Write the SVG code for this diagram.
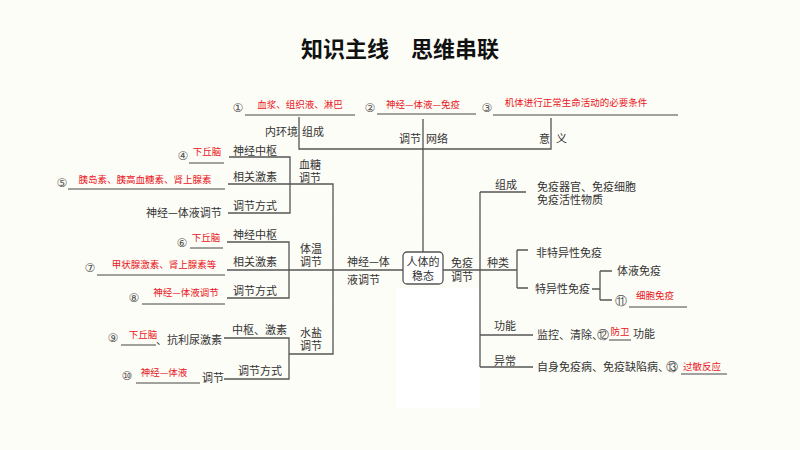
<svg xmlns="http://www.w3.org/2000/svg" width="800" height="450" viewBox="0 0 800 450">
<style>
.t{font-family:"Noto Sans CJK SC",sans-serif;font-size:11px;fill:#333}
.r{font-family:"Noto Sans CJK SC",sans-serif;font-size:9.5px;fill:#e8141b}
.n{font-family:"DejaVu Sans",sans-serif;font-size:12px;fill:#555}
.l{stroke:#555;stroke-width:1.3;fill:none}
.u{stroke:#444;stroke-width:1;fill:none}
</style>
<rect width="800" height="450" fill="#fdfdf7"/>
<text x="400" y="57" text-anchor="middle" font-family="Noto Sans CJK SC,sans-serif" font-size="22" font-weight="bold" fill="#111">知识主线　思维串联</text>
<rect x="396" y="288" width="84" height="120" fill="#fff"/>
<g id="connectors">
<path class="l" d="M299 117V149H551V118M423 119V252M229 157H290V213H228M228 184H333V354H289M227 242H289V298H227M227 270H403M224 338H289V379H224M443 270H517M480 192H526M480 192V367M480 335H533M480 367H533M517 250V288M517 250H528M517 288H528M592 289H600M600 271V300M600 271H612M600 300H612"/>
<path class="u" d="M245 115H355M377 114H476M493 115H678M189 163H224M68 189H225M190 248H223M97 275H225M142 304H225M121 345H156M136 383H200M629 307H687M609 340H631M681 374H727"/>
</g>
<g id="center"><rect x="403" y="252" width="40" height="32" rx="4" fill="#fff" stroke="#555" stroke-width="1.3"/><text class="t" x="423" y="266" text-anchor="middle">人体的</text><text class="t" x="423" y="280" text-anchor="middle">稳态</text></g>
<g id="top">
<text class="n" x="238" y="112" text-anchor="middle">①</text><text class="r" x="300" y="108" text-anchor="middle">血浆、组织液、淋巴</text>
<text class="n" x="370" y="112" text-anchor="middle">②</text><text class="r" x="423" y="108" text-anchor="middle">神经—体液—免疫</text>
<text class="n" x="487" y="112" text-anchor="middle">③</text><text class="r" x="576" y="106" text-anchor="middle">机体进行正常生命活动的必要条件</text>
<text class="t" x="265" y="136">内环境</text><text class="t" x="302" y="136">组成</text>
<text class="t" x="399" y="143">调节</text><text class="t" x="426" y="143">网络</text>
<text class="t" x="539" y="143">意</text><text class="t" x="556" y="143">义</text>
</g>
<g id="sugar">
<text class="t" x="299" y="169">血糖</text><text class="t" x="299" y="182">调节</text>
<text class="t" x="233" y="155">神经中枢</text><text class="t" x="233" y="181">相关激素</text><text class="t" x="233" y="210">调节方式</text>
<text class="t" x="146" y="217">神经—体液调节</text>
<text class="n" x="183" y="160" text-anchor="middle">④</text><text class="r" x="207" y="155" text-anchor="middle">下丘脑</text>
<text class="n" x="62" y="187" text-anchor="middle">⑤</text><text class="r" x="145" y="183" text-anchor="middle">胰岛素、胰高血糖素、肾上腺素</text>
</g>
<g id="temp">
<text class="t" x="300" y="253">体温</text><text class="t" x="300" y="266">调节</text>
<text class="t" x="233" y="239">神经中枢</text><text class="t" x="233" y="266">相关激素</text><text class="t" x="233" y="295">调节方式</text>
<text class="n" x="182" y="247" text-anchor="middle">⑥</text><text class="r" x="206" y="241" text-anchor="middle">下丘脑</text>
<text class="n" x="90" y="272" text-anchor="middle">⑦</text><text class="r" x="164" y="268" text-anchor="middle">甲状腺激素、肾上腺素等</text>
<text class="n" x="134" y="302" text-anchor="middle">⑧</text><text class="r" x="186" y="296" text-anchor="middle">神经—体液调节</text>
<text class="t" x="347" y="266">神经—体</text><text class="t" x="347" y="284">液调节</text>
</g>
<g id="water">
<text class="t" x="300" y="337">水盐</text><text class="t" x="300" y="350">调节</text>
<text class="t" x="232" y="334">中枢、激素</text><text class="t" x="238" y="375">调节方式</text>
<text class="n" x="113" y="342" text-anchor="middle">⑨</text><text class="r" x="143" y="338" text-anchor="middle">下丘脑</text><text class="t" x="156" y="344">、抗利尿激素</text>
<text class="n" x="127" y="380" text-anchor="middle">⑩</text><text class="r" x="164" y="376" text-anchor="middle">神经—体液</text><text class="t" x="202" y="382">调节</text>
</g>
<g id="immune">
<text class="t" x="451" y="267">免疫</text><text class="t" x="451" y="281">调节</text>
<text class="t" x="495" y="189">组成</text>
<text class="t" x="537" y="191">免疫器官、免疫细胞</text><text class="t" x="537" y="204">免疫活性物质</text>
<text class="t" x="487" y="267">种类</text>
<text class="t" x="536" y="257">非特异性免疫</text><text class="t" x="535" y="293">特异性免疫</text>
<text class="t" x="617" y="275">体液免疫</text>
<text class="n" x="621" y="305" text-anchor="middle">⑪</text><text class="r" x="655" y="299" text-anchor="middle">细胞免疫</text>
<text class="t" x="494" y="330">功能</text><text class="t" x="537" y="339">监控、清除、</text><text class="n" x="603" y="339" text-anchor="middle">⑫</text><text class="r" x="620" y="335" text-anchor="middle">防卫</text><text class="t" x="633" y="338">功能</text>
<text class="t" x="494" y="365">异常</text><text class="t" x="537" y="371">自身免疫病、免疫缺陷病、</text><text class="n" x="672" y="371" text-anchor="middle">⑬</text><text class="r" x="702" y="370" text-anchor="middle">过敏反应</text>
</g>
</svg>
